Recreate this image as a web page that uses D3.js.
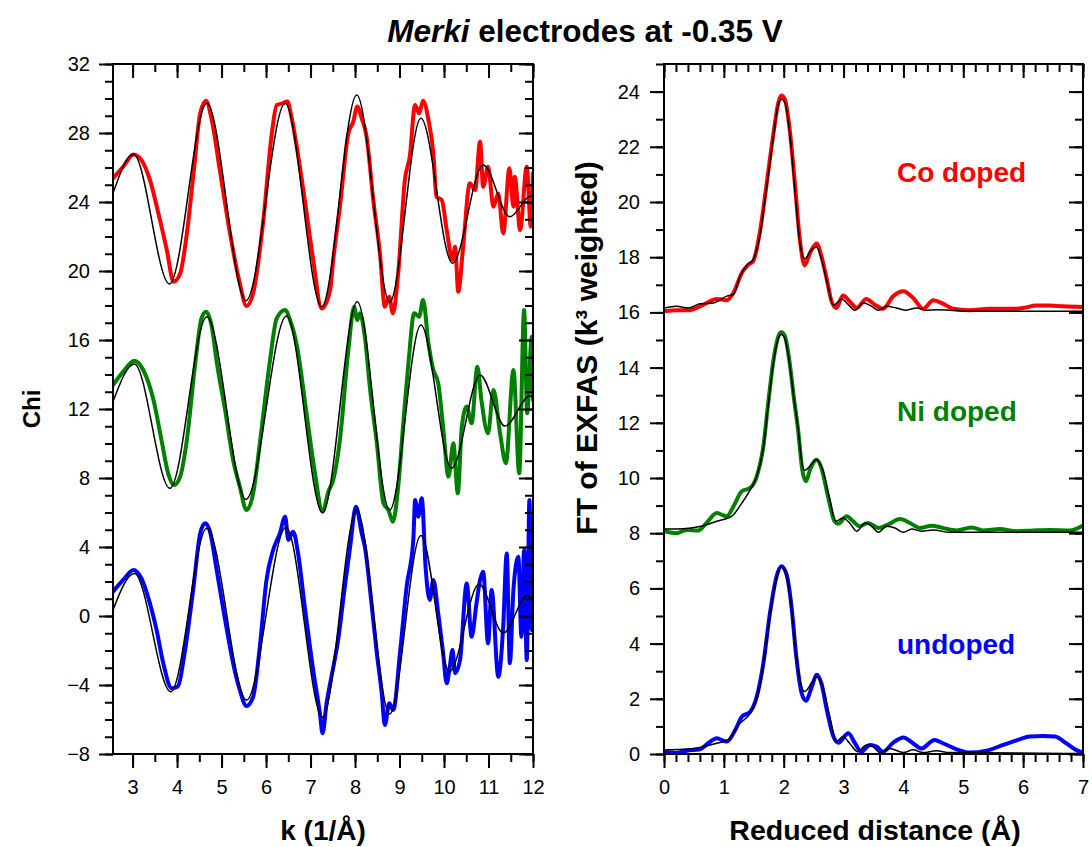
<!DOCTYPE html>
<html><head><meta charset="utf-8">
<script src="https://cdn.jsdelivr.net/npm/d3@7"></script>
<style>
body{margin:0;background:#fff;}
svg{display:block;font-family:"Liberation Sans",Arial,sans-serif;}
</style></head>
<body>
<svg id="c" width="1092" height="847"></svg>
<script>
// ---------- DATA ----------
const titleItalic = "Merki";
const titleRest = " electrodes at -0.35 V";
const seriesNames = ["Co doped", "Ni doped", "undoped"];
const seriesColors = ["#ff0000", "#008000", "#0000ff"];

const kTicks = [3,4,5,6,7,8,9,10,11,12];
const chiTicks = [-8,-4,0,4,8,12,16,20,24,28,32];
const rTicks = [0,1,2,3,4,5,6,7];
const ftTicks = [0,2,4,6,8,10,12,14,16,18,20,22,24];

// Left panel: k-space chi (data, thick) and fits (thin black)
const chiCoData = [[2.56,25.37],[2.79,26.05],[3.02,26.76],[3.2,26.43],[3.39,25.28],[3.58,23.34],[3.77,21.22],[3.92,19.38],[4.07,19.86],[4.22,22.18],[4.37,25.66],[4.52,29.14],[4.65,29.87],[4.78,28.75],[4.96,25.86],[5.19,22.18],[5.41,19.29],[5.56,17.97],[5.71,18.71],[5.94,22.96],[6.13,27.98],[6.24,29.62],[6.37,29.72],[6.48,29.82],[6.57,28.95],[6.69,27.21],[6.87,24.12],[7.06,20.64],[7.25,17.83],[7.44,18.9],[7.51,20.64],[7.66,23.73],[7.85,27.98],[7.96,28.66],[8.05,29.53],[8.15,28.85],[8.26,27.79],[8.41,24.12],[8.56,21.02],[8.67,17.93],[8.77,18.51],[8.85,17.55],[8.97,19.86],[9.12,25.28],[9.23,26.63],[9.35,29.62],[9.44,29.14],[9.53,29.87],[9.65,28.75],[9.76,26.82],[9.83,24.31],[9.95,24.12],[10.06,22.38],[10.19,20.64],[10.25,21.41],[10.32,18.8],[10.43,21.41],[10.58,25.08],[10.7,24.7],[10.81,27.5],[10.88,24.89],[10.99,26.05],[11.11,23.73],[11.22,24.5],[11.33,22.18],[11.47,25.95],[11.56,23.73],[11.59,25.47],[11.71,22.38],[11.86,26.05],[11.95,22.57],[12.0,25.66]];
const chiCoFit = [[2.56,24.5],[3.02,26.77],[3.83,19.25],[4.67,29.72],[5.55,18.28],[6.43,29.72],[7.25,17.93],[8.04,30.2],[8.78,18.2],[9.48,28.85],[10.19,20.45],[10.88,26.14],[11.48,23.15],[11.95,24.35],[12.0,24.3]];

const chiNiData = [[2.56,13.39],[2.79,14.17],[3.04,14.8],[3.24,14.26],[3.47,12.52],[3.65,10.2],[3.8,8.27],[3.93,7.59],[4.07,8.08],[4.22,10.2],[4.4,14.45],[4.55,17.26],[4.65,17.64],[4.78,16.77],[4.89,14.74],[5.08,11.94],[5.26,9.04],[5.41,7.5],[5.56,6.14],[5.71,7.11],[5.86,10.01],[6.09,14.84],[6.24,17.26],[6.43,17.74],[6.54,17.16],[6.69,15.71],[6.91,11.75],[7.1,8.27],[7.27,6.05],[7.4,7.21],[7.51,7.88],[7.66,10.2],[7.85,15.42],[7.98,17.93],[8.05,17.16],[8.11,17.55],[8.22,16.19],[8.34,13.1],[8.49,10.01],[8.64,6.53],[8.75,6.14],[8.85,5.47],[8.97,7.5],[9.09,11.36],[9.2,14.65],[9.33,17.55],[9.44,17.35],[9.53,18.32],[9.65,15.81],[9.76,14.26],[9.87,13.49],[9.98,10.97],[10.1,8.08],[10.21,10.01],[10.31,7.11],[10.4,10.97],[10.51,12.14],[10.62,11.17],[10.75,14.45],[10.84,12.52],[10.99,10.59],[11.11,13.1],[11.26,10.59],[11.39,8.85],[11.56,14.26],[11.69,8.27],[11.8,17.74],[11.87,11.75],[11.97,16.19],[12.0,12.52]];
const chiNiFit = [[2.56,12.43],[3.04,14.61],[3.84,7.4],[4.67,17.35],[5.55,6.76],[6.46,17.39],[7.27,5.99],[8.05,18.22],[8.78,6.14],[9.48,16.87],[10.17,8.56],[10.81,13.97],[11.37,11.01],[11.93,12.75],[12.0,12.71]];

const chiUnData = [[2.56,1.41],[2.79,2.09],[3.02,2.67],[3.2,2.18],[3.39,0.73],[3.54,-0.81],[3.69,-2.74],[3.88,-4.19],[4.01,-4.1],[4.18,-1.97],[4.37,1.7],[4.52,4.79],[4.63,5.37],[4.74,4.89],[4.89,2.67],[5.08,-0.23],[5.26,-2.74],[5.41,-4.29],[5.56,-5.22],[5.71,-4.68],[5.86,-1.78],[6.01,2.09],[6.16,3.83],[6.31,4.79],[6.43,5.76],[6.5,4.41],[6.61,4.89],[6.72,3.63],[6.87,0.54],[7.06,-3.13],[7.21,-5.64],[7.27,-6.8],[7.36,-5.06],[7.47,-3.52],[7.62,-1.39],[7.77,1.7],[7.89,4.02],[8.02,6.34],[8.15,4.79],[8.22,4.02],[8.37,0.73],[8.49,-2.16],[8.6,-4.48],[8.67,-6.32],[8.77,-5.06],[8.86,-5.45],[9.01,-2.16],[9.16,1.7],[9.31,4.41],[9.35,6.73],[9.42,5.76],[9.5,6.82],[9.59,2.67],[9.68,0.93],[9.76,2.09],[9.87,0.15],[9.98,-2.16],[10.06,-3.9],[10.13,-2.94],[10.19,-1.97],[10.25,-3.32],[10.36,-2.55],[10.51,1.89],[10.62,-1.2],[10.73,0.73],[10.81,2.09],[10.88,2.57],[10.99,-1.59],[11.07,1.51],[11.22,-3.52],[11.33,-0.62],[11.41,3.63],[11.48,-2.74],[11.56,1.51],[11.67,3.44],[11.74,-1.2],[11.8,3.83],[11.86,-2.55],[11.92,6.73],[11.97,-0.81],[12.0,5.5]];
const chiUnFit = [[2.56,0.35],[3.04,2.47],[3.86,-4.39],[4.67,5.08],[5.56,-4.87],[6.45,5.14],[7.27,-5.87],[8.04,6.15],[8.78,-5.68],[9.48,4.66],[10.12,-3.23],[10.79,1.85],[11.33,-1.0],[11.87,1.18],[12.0,0.95]];

// Right panel: Fourier transform magnitude (offset) data and fits
const ftCoData = [[0,16.04],[0.21,16.08],[0.43,16.08],[0.66,16.28],[0.88,16.49],[1.05,16.44],[1.16,16.71],[1.3,17.43],[1.41,17.73],[1.49,17.86],[1.6,18.88],[1.71,20.58],[1.83,22.51],[1.91,23.6],[1.96,23.86],[2.02,23.72],[2.1,22.63],[2.19,20.58],[2.27,18.64],[2.35,17.7],[2.44,18.16],[2.55,18.5],[2.63,18.04],[2.72,17.19],[2.8,16.4],[2.88,16.16],[2.99,16.61],[3.1,16.4],[3.22,16.16],[3.38,16.49],[3.52,16.28],[3.66,16.13],[3.83,16.59],[4.0,16.77],[4.16,16.53],[4.33,16.13],[4.5,16.44],[4.66,16.32],[4.83,16.13],[5.1,16.08],[5.44,16.13],[5.78,16.13],[6.0,16.16],[6.22,16.25],[6.44,16.25],[6.67,16.22],[7.0,16.2]];
const ftCoFit = [[0,16.16],[0.21,16.22],[0.41,16.16],[0.6,16.31],[0.82,16.34],[1.05,16.59],[1.16,16.65],[1.27,17.31],[1.38,17.7],[1.49,17.92],[1.6,18.76],[1.71,20.45],[1.83,22.39],[1.91,23.54],[1.96,23.72],[2.02,23.6],[2.1,22.51],[2.19,20.33],[2.27,18.52],[2.35,17.94],[2.47,18.28],[2.55,18.37],[2.63,17.92],[2.74,16.95],[2.83,16.25],[2.97,16.49],[3.08,16.28],[3.19,16.08],[3.33,16.34],[3.47,16.22],[3.58,16.08],[3.72,16.22],[3.88,16.16],[4.05,16.08],[4.22,16.16],[4.38,16.08],[4.55,16.1],[4.77,16.08],[5.1,16.04],[5.89,16.04],[7.0,16.04]];

const ftNiData = [[0,8.07],[0.21,8.0],[0.38,8.12],[0.57,8.1],[0.71,8.37],[0.88,8.73],[1.05,8.61],[1.16,8.97],[1.3,9.52],[1.44,9.64],[1.55,10.06],[1.66,11.15],[1.74,12.7],[1.83,14.29],[1.91,15.13],[1.96,15.28],[2.02,15.13],[2.1,14.17],[2.17,12.9],[2.24,11.75],[2.31,10.3],[2.37,9.88],[2.44,10.3],[2.55,10.66],[2.63,10.36],[2.74,9.33],[2.85,8.43],[2.91,8.34],[3.05,8.61],[3.16,8.43],[3.27,8.25],[3.41,8.37],[3.58,8.19],[3.74,8.31],[3.94,8.51],[4.11,8.37],[4.27,8.19],[4.47,8.27],[4.66,8.19],[4.89,8.1],[5.14,8.21],[5.33,8.1],[5.61,8.15],[5.89,8.07],[6.17,8.1],[6.44,8.12],[6.78,8.1],[7.0,8.28]];
const ftNiFit = [[0,8.15],[0.32,8.16],[0.6,8.24],[0.88,8.43],[1.13,8.61],[1.3,9.09],[1.44,9.57],[1.55,10.06],[1.66,11.1],[1.74,12.6],[1.83,14.2],[1.91,15.05],[1.96,15.2],[2.02,15.05],[2.1,14.1],[2.17,12.9],[2.24,11.8],[2.3,10.6],[2.35,10.28],[2.55,10.66],[2.66,10.24],[2.77,9.22],[2.87,8.43],[2.99,8.55],[3.1,8.37],[3.22,8.07],[3.36,8.37],[3.47,8.25],[3.58,8.03],[3.72,8.25],[3.86,8.19],[4.0,8.03],[4.14,8.15],[4.3,8.07],[4.5,8.12],[4.77,8.03],[5.33,8.03],[7.0,8.03]];

const ftUnData = [[0,0.08],[0.21,0.04],[0.38,0.12],[0.6,0.17],[0.74,0.39],[0.88,0.57],[1.05,0.45],[1.19,0.87],[1.3,1.35],[1.44,1.53],[1.55,2.08],[1.66,3.29],[1.77,5.1],[1.88,6.43],[1.96,6.8],[2.05,6.49],[2.13,5.34],[2.21,3.53],[2.3,2.2],[2.37,1.93],[2.47,2.44],[2.55,2.87],[2.63,2.56],[2.72,1.6],[2.83,0.63],[2.91,0.41],[3.08,0.75],[3.19,0.39],[3.3,0.08],[3.44,0.33],[3.55,0.27],[3.66,0.08],[3.83,0.41],[4.0,0.6],[4.16,0.39],[4.3,0.2],[4.52,0.51],[4.66,0.39],[4.89,0.17],[5.1,0.05],[5.39,0.12],[5.67,0.33],[5.94,0.53],[6.11,0.63],[6.33,0.65],[6.53,0.63],[6.72,0.39],[6.89,0.14],[7.0,0.05]];
const ftUnFit = [[0,0.15],[0.32,0.17],[0.6,0.24],[0.88,0.39],[1.07,0.51],[1.27,1.11],[1.44,1.47],[1.55,2.0],[1.66,3.2],[1.77,5.0],[1.88,6.35],[1.96,6.77],[2.05,6.45],[2.13,5.3],[2.21,3.55],[2.29,2.5],[2.35,2.26],[2.55,2.8],[2.66,2.38],[2.77,1.35],[2.88,0.45],[2.99,0.63],[3.1,0.39],[3.24,0.08],[3.38,0.33],[3.49,0.27],[3.61,0.05],[3.77,0.2],[4.0,0.05],[4.16,0.15],[4.33,0.05],[4.55,0.12],[4.77,0.05],[7.0,0.02]];

// ---------- DRAWING ----------
const svg = d3.select("#c");
const FONT = '"Liberation Sans", Arial, sans-serif';

const xL = d3.scaleLinear().domain([2.56, 12]).range([113, 533]);
const yL = d3.scaleLinear().domain([-8, 32]).range([754, 64]);
const xR = d3.scaleLinear().domain([0, 7]).range([664, 1083]);
const yR = d3.scaleLinear().domain([0, 25]).range([754, 64]);

// title
const title = svg.append("text").attr("x", 585).attr("y", 42)
  .attr("text-anchor", "middle").attr("font-size", 31.5).attr("font-weight", "bold");
title.append("tspan").attr("font-style", "italic").text(titleItalic);
title.append("tspan").text(titleRest);

function clip(id, x, y) {
  svg.append("clipPath").attr("id", id).append("rect")
    .attr("x", x.range()[0]).attr("y", y.range()[1])
    .attr("width", x.range()[1] - x.range()[0]).attr("height", y.range()[0] - y.range()[1]);
}
clip("clipL", xL, yL);
clip("clipR", xR, yR);

function drawLines(x, y, clipId, dataSets, fitSets) {
  const g = svg.append("g").attr("clip-path", `url(#${clipId})`);
  const line = d3.line().x(d => x(d[0])).y(d => y(d[1])).curve(d3.curveMonotoneX);
  dataSets.forEach((ds, i) => {
    g.append("path").attr("d", line(ds)).attr("fill", "none")
      .attr("stroke", seriesColors[i]).attr("stroke-width", 4)
      .attr("stroke-linejoin", "round").attr("stroke-linecap", "round");
  });
  fitSets.forEach(fs => {
    g.append("path").attr("d", line(fs)).attr("fill", "none")
      .attr("stroke", "#000").attr("stroke-width", 1.5)
      .attr("stroke-linejoin", "round");
  });
}

drawLines(xL, yL, "clipL", [chiCoData, chiNiData, chiUnData], [chiCoFit, chiNiFit, chiUnFit]);
drawLines(xR, yR, "clipR", [ftCoData, ftNiData, ftUnData], [ftCoFit, ftNiFit, ftUnFit]);

function styleAxis(g) {
  g.select(".domain").remove();
  g.selectAll("line").attr("stroke", "#000").attr("stroke-width", 2);
  g.selectAll("text").attr("font-size", 20).attr("fill", "#000").attr("font-family", FONT);
}

function frameAxes(x, y, xMajor, xMinor, yMajor, yMinor, yPad) {
  const [x0, x1] = x.range();
  const [yb, yt] = y.range();
  // bottom (outward)
  svg.append("g").attr("transform", `translate(0,${yb})`)
    .call(d3.axisBottom(x).tickValues(xMinor).tickSize(8).tickFormat("")).call(styleAxis);
  svg.append("g").attr("transform", `translate(0,${yb})`)
    .call(d3.axisBottom(x).tickValues(xMajor).tickSize(14).tickPadding(12).tickFormat(d3.format("d"))).call(styleAxis);
  // top (inward)
  svg.append("g").attr("transform", `translate(0,${yt})`)
    .call(d3.axisBottom(x).tickValues(xMinor).tickSize(8).tickFormat("")).call(styleAxis);
  svg.append("g").attr("transform", `translate(0,${yt})`)
    .call(d3.axisBottom(x).tickValues(xMajor).tickSize(14).tickFormat("")).call(styleAxis);
  // left (outward)
  svg.append("g").attr("transform", `translate(${x0},0)`)
    .call(d3.axisLeft(y).tickValues(yMinor).tickSize(8).tickFormat("")).call(styleAxis);
  svg.append("g").attr("transform", `translate(${x0},0)`)
    .call(d3.axisLeft(y).tickValues(yMajor).tickSize(14).tickPadding(yPad).tickFormat(d3.format("d"))).call(styleAxis);
  // right (inward)
  svg.append("g").attr("transform", `translate(${x1},0)`)
    .call(d3.axisLeft(y).tickValues(yMinor).tickSize(8).tickFormat("")).call(styleAxis);
  svg.append("g").attr("transform", `translate(${x1},0)`)
    .call(d3.axisLeft(y).tickValues(yMajor).tickSize(14).tickFormat("")).call(styleAxis);
  svg.append("rect").attr("x", x0).attr("y", yt).attr("width", x1 - x0).attr("height", yb - yt)
    .attr("fill", "none").attr("stroke", "#000").attr("stroke-width", 2);
}

const kMinor = d3.range(3, 12.01, 0.5);
const chiMinor = d3.range(-8, 32.01, 1);
const rMinor = d3.range(0, 7.001, 0.2);
const ftMinor = d3.range(0, 25.01, 1);
frameAxes(xL, yL, kTicks, kMinor, chiTicks, chiMinor, 9);
frameAxes(xR, yR, rTicks, rMinor, ftTicks, ftMinor, 10);

// axis titles
svg.append("text").attr("transform", "translate(40,409) rotate(-90)")
  .attr("text-anchor", "middle").attr("font-size", 24).attr("font-weight", "bold").text("Chi");
svg.append("text").attr("x", 323).attr("y", 840)
  .attr("text-anchor", "middle").attr("font-size", 28).attr("font-weight", "bold").text("k (1/Å)");
svg.append("text").attr("x", 875).attr("y", 840)
  .attr("text-anchor", "middle").attr("font-size", 28.5).attr("font-weight", "bold").text("Reduced distance (Å)");
svg.append("text").attr("transform", "translate(597,348) rotate(-90)")
  .attr("text-anchor", "middle").attr("font-size", 30).attr("font-weight", "bold").text("FT of EXFAS (k³ weighted)");

// series labels
const labelY = [182, 421, 654];
seriesNames.forEach((n, i) => {
  svg.append("text").attr("x", 897).attr("y", labelY[i])
    .attr("font-size", 28).attr("font-weight", "bold").attr("fill", seriesColors[i]).text(n);
});
</script>
</body></html>
